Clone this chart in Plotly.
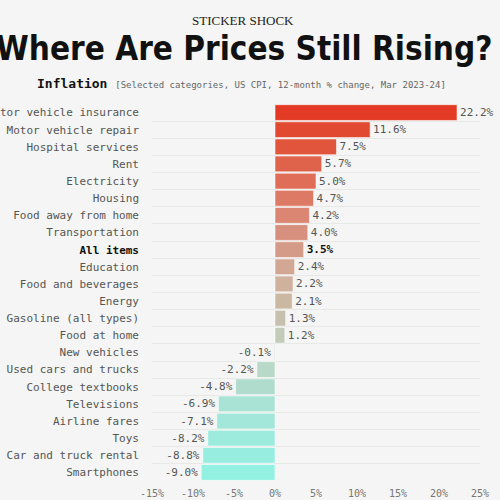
import plotly.graph_objects as go

categories = [
    "Motor vehicle insurance", "Motor vehicle repair", "Hospital services", "Rent",
    "Electricity", "Housing", "Food away from home", "Transportation", "All items",
    "Education", "Food and beverages", "Energy", "Gasoline (all types)", "Food at home",
    "New vehicles", "Used cars and trucks", "College textbooks", "Televisions",
    "Airline fares", "Toys", "Car and truck rental", "Smartphones",
]
values = [22.2, 11.6, 7.5, 5.7, 5.0, 4.7, 4.2, 4.0, 3.5, 2.4, 2.2, 2.1, 1.3, 1.2,
          -0.1, -2.2, -4.8, -6.9, -7.1, -8.2, -8.8, -9.0]
bar_colors = [
    "#e23a24", "#e14a30", "#e0553c", "#df634b", "#df6d57", "#dc7a65", "#da8672",
    "#d8907e", "#d49c88", "#d2a895", "#cfb19d", "#cab8a2", "#c6c0ae", "#c2ccb8",
    "#bfd2c2", "#b8d8c8", "#b0dccd", "#a8e3d5", "#a2e7d9", "#9cebdd", "#97eee0", "#93f1e2",
]
tick_vals = [-15, -10, -5, 0, 5, 10, 15, 20, 25]
tick_text = ["-15%", "-10%", "-5%", "0%", "5%", "10%", "15%", "20%", "25%"]
highlight = "All items"

MONO = "DejaVu Sans Mono"

bar_text = []
text_colors = []
for c, v in zip(categories, values):
    s = f"{v:.1f}%"
    if c == highlight:
        bar_text.append(f"<b>{s}</b>")
        text_colors.append("#111111")
    else:
        bar_text.append(s)
        text_colors.append("#555555")

tick_labels = [
    f"<span style='color:#111'><b>{c}</b></span>" if c == highlight else c
    for c in categories
]

fig = go.Figure(go.Bar(
    x=values,
    y=categories,
    orientation="h",
    marker=dict(color=bar_colors, line=dict(color="rgba(255,255,255,0.55)", width=1)),
    text=bar_text,
    textposition="outside",
    textfont=dict(family=MONO, size=11, color=text_colors),
    cliponaxis=False,
    hoverinfo="skip",
))

def px(x):
    return (x - 152) / 328

def py(y):
    return (481 - y) / 377

fig.update_layout(
    width=500, height=500,
    template="none",
    paper_bgcolor="#f4f5f4",
    plot_bgcolor="#f4f5f4",
    margin=dict(l=152, r=20, t=104, b=19, autoexpand=False),
    bargap=0.08,
    showlegend=False,
    font=dict(family=MONO, color="#555555"),
    xaxis=dict(
        range=[-15, 25], tickvals=tick_vals, ticktext=tick_text,
        showgrid=False, zeroline=False, showline=False, ticks="",
        tickfont=dict(family=MONO, size=10, color="#777777"),
        ticklabelstandoff=5, automargin=False, fixedrange=True,
    ),
    yaxis=dict(
        categoryorder="array", categoryarray=categories[::-1],
        tickvals=categories, ticktext=tick_labels,
        autorange=False, range=[-0.5, len(categories) - 0.5],
        showgrid=True, gridcolor="#e7e9e7", gridwidth=1, tickson="boundaries",
        zeroline=False, showline=False, ticks="",
        tickfont=dict(family=MONO, size=11, color="#555555"),
        ticklabelstandoff=12, automargin=False, fixedrange=True,
    ),
    annotations=[
        dict(text="STICKER SHOCK", xref="paper", yref="paper",
             x=px(243), y=py(21), xanchor="center", yanchor="middle",
             showarrow=False, font=dict(family="Liberation Serif", size=13, color="#222222")),
        dict(text="<b>Where Are Prices Still Rising?</b>", xref="paper", yref="paper",
             x=px(244), y=py(49), xanchor="center", yanchor="middle",
             showarrow=False,
             font=dict(family="DejaVu Sans Condensed, Roboto Condensed, sans-serif",
                       size=33, color="#111111")),
        dict(text="<b>Inflation</b> <span style='font-size:9px;color:#666666'>[Selected categories, US CPI, 12-month % change, Mar 2023-24]</span>",
             xref="paper", yref="paper",
             x=px(241), y=py(83), xanchor="center", yanchor="middle",
             showarrow=False, font=dict(family=MONO, size=13, color="#111111")),
    ],
)

fig.write_html("out.html", config={"displayModeBar": False},
               post_script="document.body.style.margin='0';")
